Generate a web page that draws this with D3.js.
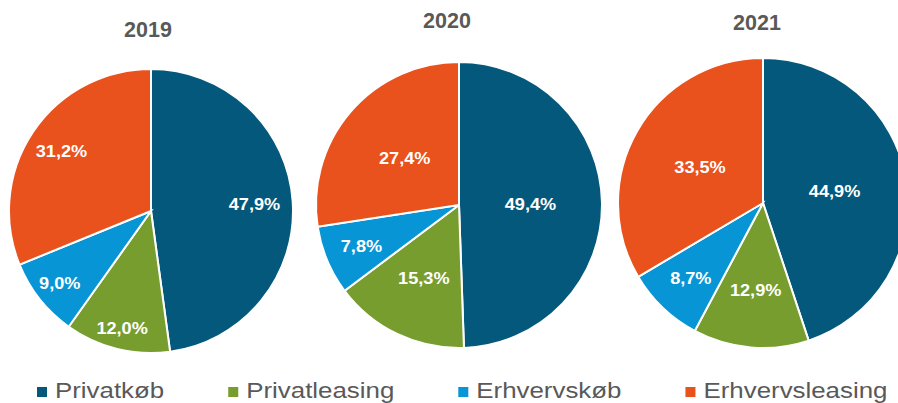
<!DOCTYPE html>
<html>
<head>
<meta charset="utf-8">
<script src="https://cdn.jsdelivr.net/npm/d3@7"></script>
<style>
  body { margin: 0; background: #fff; }
  svg { display: block; font-family: "Liberation Sans", Arial, sans-serif; }
</style>
</head>
<body>
<svg id="chart"></svg>
<script>
const categories = ["Privatkøb", "Privatleasing", "Erhvervskøb", "Erhvervsleasing"];
const years = ["2019", "2020", "2021"];
const values2019 = [47.9, 12.0, 9.0, 31.2];
const values2020 = [49.4, 15.3, 7.8, 27.4];
const values2021 = [44.9, 12.9, 8.7, 33.5];
const seriesValues = [values2019, values2020, values2021];

const colors = ["#03587B", "#789D2F", "#0795D6", "#E9511D"];

const WIDTH = 898;
const HEIGHT = 403;

// layout of each pie: centre, radius, title position, label radius (as share of radius)
const PIES = [
  { cx: 151, cy: 211, r: 142, tx: 148, ty: 37, labelR: [0.73, 0.85, 0.82, 0.76] },
  { cx: 459, cy: 205, r: 143, tx: 447, ty: 28, labelR: [0.5, 0.57, 0.74, 0.5] },
  { cx: 763, cy: 203, r: 145, tx: 757, ty: 30, labelR: [0.5, 0.6, 0.72, 0.5] }
];

const svg = d3.select("#chart")
  .attr("width", WIDTH)
  .attr("height", HEIGHT);

const color = d3.scaleOrdinal().domain(categories).range(colors);
const fmt = v => d3.format(".1f")(v).replace(".", ",") + "%";

const pie = d3.pie().sort(null).value(d => d.value);

years.forEach((year, i) => {
  const p = PIES[i];
  const data = categories.map((c, j) => ({ cat: c, value: seriesValues[i][j], idx: j }));
  const arcs = pie(data);
  const arc = d3.arc().innerRadius(0).outerRadius(p.r);

  const g = svg.append("g").attr("transform", `translate(${p.cx}, ${p.cy})`);

  g.selectAll("path")
    .data(arcs)
    .enter()
    .append("path")
    .attr("d", arc)
    .attr("fill", d => color(d.data.cat))
    .attr("stroke", "#fff")
    .attr("stroke-width", 2);

  g.selectAll("text")
    .data(arcs)
    .enter()
    .append("text")
    .attr("transform", d => {
      const lr = p.r * p.labelR[d.data.idx];
      const [x, y] = d3.arc().innerRadius(lr).outerRadius(lr).centroid(d);
      return `translate(${x}, ${y}) scale(1.1, 1)`;
    })
    .attr("text-anchor", "middle")
    .attr("dy", "0.36em")
    .attr("fill", "#fff")
    .attr("font-weight", "bold")
    .attr("font-size", 16.5)
    .text(d => fmt(d.data.value));

  svg.append("text")
    .attr("x", p.tx)
    .attr("y", p.ty)
    .attr("text-anchor", "middle")
    .attr("fill", "#595959")
    .attr("font-weight", "bold")
    .attr("font-size", 21.5)
    .text(year);
});

// legend
const legend = svg.append("g").attr("class", "legend");
let lx = 37;
categories.forEach(c => {
  const item = legend.append("g").attr("transform", `translate(${lx}, 0)`);
  item.append("rect")
    .attr("x", 0)
    .attr("y", 387)
    .attr("width", 10)
    .attr("height", 10)
    .attr("fill", color(c));
  const t = item.append("text")
    .attr("transform", "translate(18, 398) scale(1.15, 1)")
    .attr("fill", "#595959")
    .attr("font-size", 22.5)
    .text(c);
  const w = t.node().getComputedTextLength() * 1.15;
  lx += 18 + w + 64;
});
</script>
</body>
</html>
